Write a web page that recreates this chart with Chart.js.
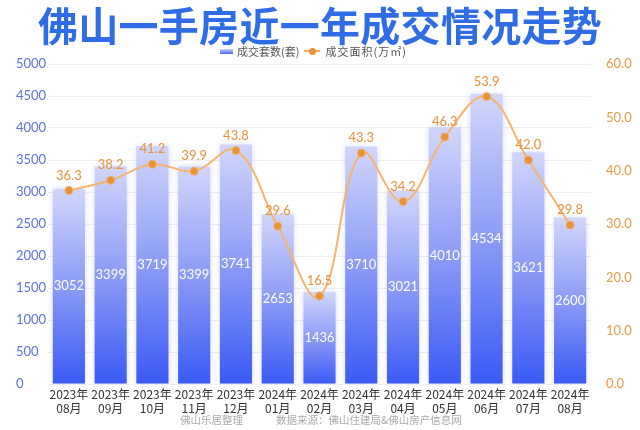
<!DOCTYPE html>
<html>
<head>
<meta charset="utf-8">
<script src="https://cdn.jsdelivr.net/npm/chart.js@4.4.1/dist/chart.umd.min.js"></script>
<style>
  body { margin: 0; background: #fff; }
  #wrap { position: relative; width: 640px; height: 430px; overflow: hidden; font-family: "Noto Sans CJK SC", sans-serif; }
  #chart { position: absolute; left: 0; top: 0; }
  #title { position: absolute; left: 0; top: 0; width: 640px; height: 48px; line-height: 48px; text-align: center;
    font-size: 40px; font-weight: bold; color: #2f6de6; letter-spacing: 0.3px;
    text-shadow: 0 0 2px #fff, 0 0 2px #fff; }
  #legend { position: absolute; left: 220px; top: 44px; height: 14px; font-size: 11px; color: #555; display: flex; align-items: center; white-space: nowrap; }
  #legend .box { display: inline-block; width: 13px; height: 5px; background: linear-gradient(#c9cffb, #4a67f5); margin-right: 4px; }
  #legend .ln { display: inline-block; position: relative; width: 16px; height: 2px; background: #f3a859; margin: 0 5px 0 5px; }
  #legend .ln i { position: absolute; left: 5px; top: -2.5px; width: 7px; height: 7px; border-radius: 50%; background: #e8923a; }
  #legend .unit { letter-spacing: 1px; }
  #footer { position: absolute; top: 412px; left: 180px; font-size: 10.5px; color: #aaa; white-space: nowrap; }
  #footer span + span { margin-left: 33px; }
</style>
</head>
<body>
<div id="wrap">
  <canvas id="chart" width="640" height="430"></canvas>
  <div id="title">佛山一手房近一年成交情况走势</div>
  <div id="legend"><span class="box"></span>成交套数(套)<span class="ln"><i></i></span><span class="unit">成交面积(万㎡)</span></div>
  <div id="footer"><span>佛山乐居整理</span><span>数据来源：佛山住建局&amp;佛山房产信息网</span></div>
</div>
<script>
const years = ['2023年', '2023年', '2023年', '2023年', '2023年', '2024年', '2024年', '2024年', '2024年', '2024年', '2024年', '2024年', '2024年'];
const months = ['08月', '09月', '10月', '11月', '12月', '01月', '02月', '03月', '04月', '05月', '06月', '07月', '08月'];
const units = [3052, 3399, 3719, 3399, 3741, 2653, 1436, 3710, 3021, 4010, 4534, 3621, 2600];
const areas = [36.3, 38.2, 41.2, 39.9, 43.8, 29.6, 16.5, 43.3, 34.2, 46.3, 53.9, 42.0, 29.8];

const labels = years.map((y, i) => [y, months[i]]);

// bar gradient per bar: light at the top, strong blue at the base
const barFill = (c) => {
    const chart = c.chart;
    const area = chart.chartArea;
    if (!area || c.dataIndex === undefined) return '#7088f5';
    const top = chart.scales.y.getPixelForValue(units[c.dataIndex]);
    const g = chart.ctx.createLinearGradient(0, top, 0, area.bottom);
    g.addColorStop(0, '#d2d6fb');
    g.addColorStop(0.5, '#8b9bf6');
    g.addColorStop(1, '#3a5af5');
    return g;
};

const barGlow = {
    id: 'barGlow',
    beforeDatasetDraw(chart, args) {
        if (args.index !== 0) return;
        chart.ctx.save();
        chart.ctx.shadowColor = 'rgba(110,130,240,0.25)';
        chart.ctx.shadowBlur = 6;
    },
    afterDatasetDraw(chart, args) {
        if (args.index !== 0) return;
        chart.ctx.restore();
    }
};

const valueLabels = {
    id: 'valueLabels',
    afterDatasetsDraw(chart) {
        const ctx = chart.ctx;
        const bars = chart.getDatasetMeta(0).data;
        const pts = chart.getDatasetMeta(1).data;
        ctx.save();
        ctx.textAlign = 'center';
        ctx.textBaseline = 'middle';
        ctx.font = '13px Lato';
        ctx.fillStyle = '#ffffff';
        bars.forEach((b, i) => {
            ctx.fillText(String(units[i]), b.x, (b.y + b.base) / 2);
        });
        ctx.fillStyle = '#e8923a';
        pts.forEach((p, i) => {
            ctx.fillText(areas[i].toFixed(1), p.x, p.y - 15);
        });
        ctx.restore();
    }
};

new Chart(document.getElementById('chart'), {
    data: {
        labels: labels,
        datasets: [{
            type: 'bar',
            label: '成交套数(套)',
            data: units,
            yAxisID: 'y',
            backgroundColor: barFill,
            borderWidth: 0,
            categoryPercentage: 1,
            barPercentage: 0.77,
            order: 1
        }, {
            type: 'line',
            label: '成交面积(万㎡)',
            data: areas,
            yAxisID: 'y1',
            borderColor: '#f5b56c',
            borderWidth: 2,
            tension: 0.4,
            pointRadius: 4,
            pointBackgroundColor: '#e8923a',
            pointBorderColor: '#f3b070',
            pointBorderWidth: 1,
            order: 0
        }]
    },
    options: {
        responsive: false,
        animation: false,
        devicePixelRatio: 1,
        layout: { padding: { left: 16, top: 64, right: 0, bottom: 0 } },
        plugins: {
            legend: { display: false },
            tooltip: { enabled: false }
        },
        scales: {
            x: {
                grid: { display: false, drawTicks: false },
                border: { display: false },
                ticks: {
                    color: '#333',
                    padding: 4,
                    maxRotation: 0,
                    autoSkip: false,
                    font: { family: 'Noto Sans CJK SC', size: 12, lineHeight: 1.15 }
                },
                afterFit: (s) => { s.height = 46; }
            },
            y: {
                position: 'left',
                min: 0,
                max: 5000,
                grid: { color: '#eeeeee', drawTicks: false },
                border: { display: false },
                ticks: {
                    stepSize: 500,
                    color: '#5d72de',
                    crossAlign: 'far',
                    font: { family: 'Lato', size: 13 },
                    callback: (v) => String(v)
                },
                afterFit: (s) => { s.width = 32; }
            },
            y1: {
                position: 'right',
                min: 0,
                max: 60,
                grid: { display: false, drawTicks: false },
                border: { display: false },
                ticks: {
                    stepSize: 10,
                    padding: 15,
                    color: '#eb9a45',
                    font: { family: 'Lato', size: 13 },
                    callback: (v) => Number(v).toFixed(1)
                },
                afterFit: (s) => { s.width = 49; }
            }
        }
    },
    plugins: [barGlow, valueLabels]
});
</script>
</body>
</html>
